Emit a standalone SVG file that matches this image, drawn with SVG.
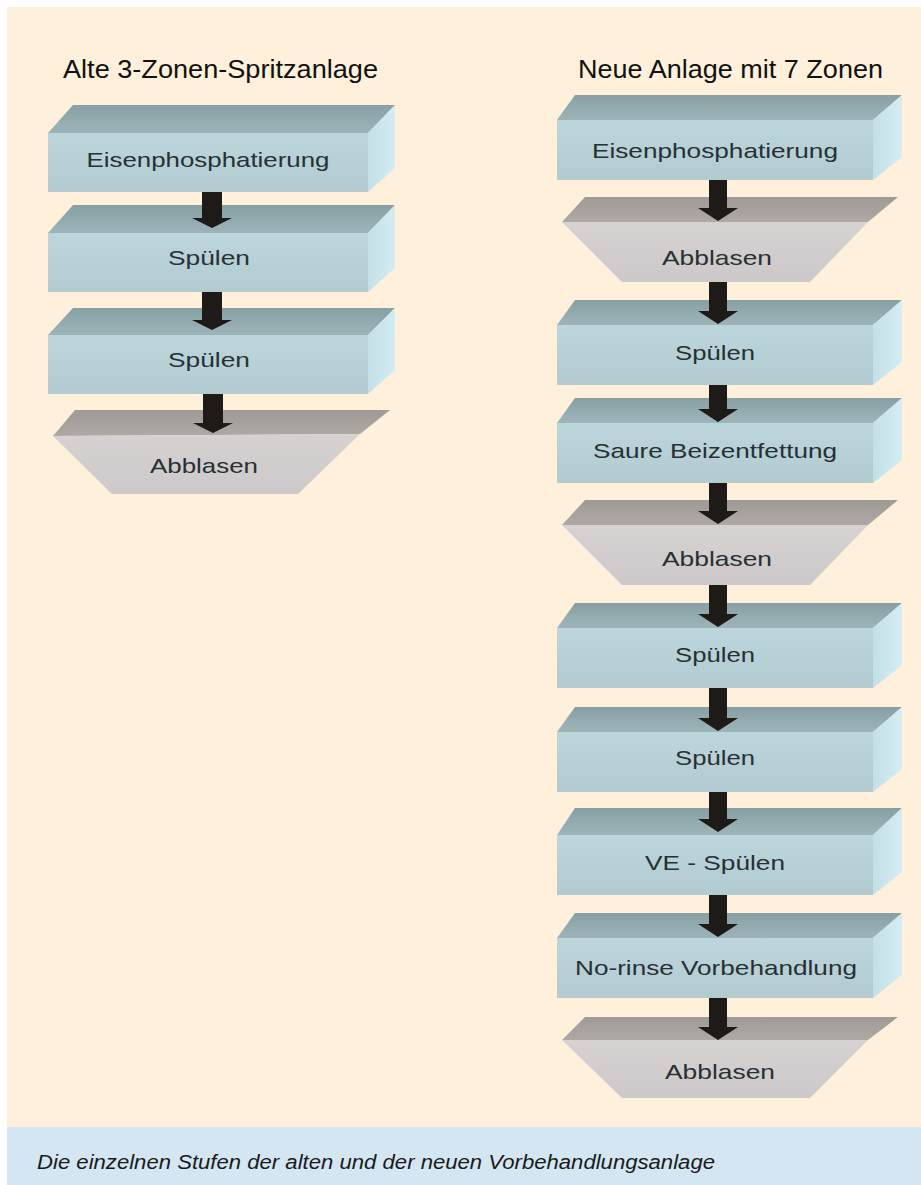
<svg xmlns="http://www.w3.org/2000/svg" width="921" height="1185" viewBox="0 0 921 1185">
<defs>
<linearGradient id="gFront" x1="0" y1="0" x2="0" y2="1">
<stop offset="0" stop-color="#BDD6DC"/><stop offset="1" stop-color="#B1CBD1"/>
</linearGradient>
<linearGradient id="gTop" x1="0" y1="0" x2="0" y2="1">
<stop offset="0" stop-color="#87A0A4"/><stop offset="1" stop-color="#9DB5B9"/>
</linearGradient>
<linearGradient id="gSide" x1="0" y1="0" x2="1" y2="0">
<stop offset="0" stop-color="#C4DFE7"/><stop offset="1" stop-color="#D4EDF3"/>
</linearGradient>
<linearGradient id="gATop" x1="0" y1="0" x2="0" y2="1">
<stop offset="0" stop-color="#A09A96"/><stop offset="1" stop-color="#AEA9A5"/>
</linearGradient>
<linearGradient id="gAFront" x1="0" y1="0" x2="0" y2="1">
<stop offset="0" stop-color="#D6D2D2"/><stop offset="1" stop-color="#CDC8C9"/>
</linearGradient>
</defs>
<style>
.front{fill:url(#gFront)}
.top{fill:url(#gTop)}
.side{fill:url(#gSide)}
.atop{fill:url(#gATop)}
.afront{fill:url(#gAFront)}
.lbl{font-family:"Liberation Sans",Arial,sans-serif;font-size:21px;fill:#283034;text-anchor:middle}
.hdr{font-family:"Liberation Sans",Arial,sans-serif;font-size:26px;fill:#111111}
.cap{font-family:"Liberation Sans",Arial,sans-serif;font-size:20px;font-style:italic;fill:#1A1A1A}
.arr{fill:#1E1A18}
</style>
<rect x="0" y="0" width="921" height="1185" fill="#FFFFFF"/>
<rect x="7" y="7" width="914" height="1120" fill="#FEF0DA"/>
<rect x="7" y="1127" width="914" height="58" fill="#D3E6F2"/>

<text class="hdr" x="63" y="78" textLength="315" lengthAdjust="spacingAndGlyphs">Alte 3-Zonen-Spritzanlage</text>
<text class="hdr" x="578" y="78" textLength="305" lengthAdjust="spacingAndGlyphs">Neue Anlage mit 7 Zonen</text>

<!-- Left column -->
<g id="L1">
<polygon class="top" points="48,133 73,105 395,105 368,133"/>
<polygon class="side" points="368,133 395,105 395,168 368,192"/>
<rect class="front" x="48" y="133" width="320" height="59"/>
<text class="lbl" x="208" y="167" textLength="243" lengthAdjust="spacingAndGlyphs">Eisenphosphatierung</text>
</g>
<g id="L2">
<polygon class="top" points="48,233 73,205 395,205 368,233"/>
<polygon class="side" points="368,233 395,205 395,268 368,292"/>
<rect class="front" x="48" y="233" width="320" height="59"/>
<text class="lbl" x="209" y="265" textLength="82" lengthAdjust="spacingAndGlyphs">Spülen</text>
</g>
<g id="L3">
<polygon class="top" points="48,335 73,308 395,308 368,335"/>
<polygon class="side" points="368,335 395,308 395,370 368,394"/>
<rect class="front" x="48" y="335" width="320" height="59"/>
<text class="lbl" x="209" y="367" textLength="82" lengthAdjust="spacingAndGlyphs">Spülen</text>
</g>
<g id="L4">
<polygon class="atop" points="75,410 390,410 360,434 53,436"/>
<polygon class="afront" points="53,436 360,434 298,494 112,494"/>
<text class="lbl" x="204" y="473" textLength="108" lengthAdjust="spacingAndGlyphs">Abblasen</text>
</g>

<!-- Right column -->
<g id="R1">
<polygon class="top" points="557,120 575,95 902,95 873,120"/>
<polygon class="side" points="873,120 902,95 902,157 873,180"/>
<rect class="front" x="557" y="120" width="316" height="60"/>
<text class="lbl" x="715" y="158" textLength="246" lengthAdjust="spacingAndGlyphs">Eisenphosphatierung</text>
</g>
<g id="R2">
<polygon class="atop" points="585,197 898,197 868,222 562,222"/>
<polygon class="afront" points="562,222 868,222 810,282 622,282"/>
<text class="lbl" x="717" y="265" textLength="110" lengthAdjust="spacingAndGlyphs">Abblasen</text>
</g>
<g id="R3">
<polygon class="top" points="557,325 575,300 902,300 873,325"/>
<polygon class="side" points="873,325 902,300 902,362 873,385"/>
<rect class="front" x="557" y="325" width="316" height="60"/>
<text class="lbl" x="715" y="360" textLength="80" lengthAdjust="spacingAndGlyphs">Spülen</text>
</g>
<g id="R4">
<polygon class="top" points="557,423 575,398 902,398 873,423"/>
<polygon class="side" points="873,423 902,398 902,460 873,483"/>
<rect class="front" x="557" y="423" width="316" height="60"/>
<text class="lbl" x="715" y="458" textLength="244" lengthAdjust="spacingAndGlyphs">Saure Beizentfettung</text>
</g>
<g id="R5">
<polygon class="atop" points="585,500 898,500 868,525 562,525"/>
<polygon class="afront" points="562,525 868,525 810,585 622,585"/>
<text class="lbl" x="717" y="566" textLength="110" lengthAdjust="spacingAndGlyphs">Abblasen</text>
</g>
<g id="R6">
<polygon class="top" points="557,628 575,603 902,603 873,628"/>
<polygon class="side" points="873,628 902,603 902,665 873,688"/>
<rect class="front" x="557" y="628" width="316" height="60"/>
<text class="lbl" x="715" y="662" textLength="80" lengthAdjust="spacingAndGlyphs">Spülen</text>
</g>
<g id="R7">
<polygon class="top" points="557,732 575,707 902,707 873,732"/>
<polygon class="side" points="873,732 902,707 902,769 873,792"/>
<rect class="front" x="557" y="732" width="316" height="60"/>
<text class="lbl" x="715" y="765" textLength="80" lengthAdjust="spacingAndGlyphs">Spülen</text>
</g>
<g id="R8">
<polygon class="top" points="557,835 575,808 902,808 873,835"/>
<polygon class="side" points="873,835 902,808 902,872 873,895"/>
<rect class="front" x="557" y="835" width="316" height="60"/>
<text class="lbl" x="715" y="870" textLength="140" lengthAdjust="spacingAndGlyphs">VE - Spülen</text>
</g>
<g id="R9">
<polygon class="top" points="557,938 575,913 902,913 873,938"/>
<polygon class="side" points="873,938 902,913 902,975 873,998"/>
<rect class="front" x="557" y="938" width="316" height="60"/>
<text class="lbl" x="716" y="975" textLength="282" lengthAdjust="spacingAndGlyphs">No-rinse Vorbehandlung</text>
</g>
<g id="R10">
<polygon class="atop" points="585,1017 898,1017 868,1040 562,1040"/>
<polygon class="afront" points="562,1040 868,1040 810,1098 622,1098"/>
<text class="lbl" x="720" y="1079" textLength="110" lengthAdjust="spacingAndGlyphs">Abblasen</text>
</g>

<g id="connectors">
<polygon class="arr" points="202,192 222,192 222,218 232,218 212,228 192,218 202,218"/>
<polygon class="arr" points="202,292 222,292 222,320 232,320 212,330 192,320 202,320"/>
<polygon class="arr" points="203,394 223,394 223,423 233,423 213,433 193,423 203,423"/>
<polygon class="arr" points="709,180 727,180 727,208 738,208 718,221 698,208 709,208"/>
<polygon class="arr" points="709,282 727,282 727,311 738,311 718,324 698,311 709,311"/>
<polygon class="arr" points="709,385 727,385 727,409 738,409 718,422 698,409 709,409"/>
<polygon class="arr" points="709,483 727,483 727,511 738,511 718,524 698,511 709,511"/>
<polygon class="arr" points="709,585 727,585 727,614 738,614 718,627 698,614 709,614"/>
<polygon class="arr" points="709,688 727,688 727,718 738,718 718,731 698,718 709,718"/>
<polygon class="arr" points="709,792 727,792 727,819 738,819 718,832 698,819 709,819"/>
<polygon class="arr" points="709,895 727,895 727,924 738,924 718,937 698,924 709,924"/>
<polygon class="arr" points="709,998 727,998 727,1027 738,1027 718,1040 698,1027 709,1027"/>
</g>

<text class="cap" x="37" y="1169" textLength="678" lengthAdjust="spacingAndGlyphs">Die einzelnen Stufen der alten und der neuen Vorbehandlungsanlage</text>
</svg>
